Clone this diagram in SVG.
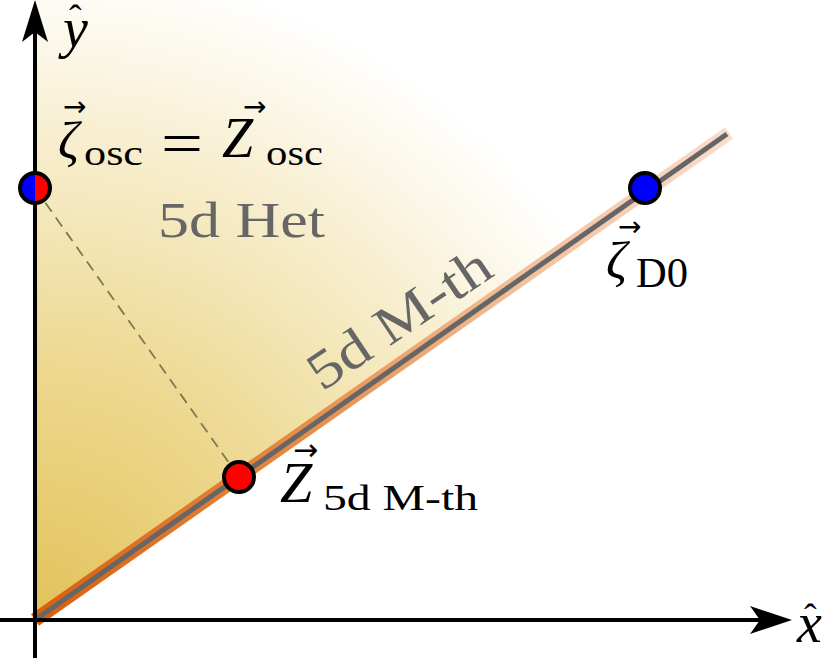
<svg xmlns="http://www.w3.org/2000/svg" width="830" height="658" viewBox="0 0 830 658">
<defs>
<radialGradient id="wedgeGrad" gradientUnits="userSpaceOnUse" cx="35" cy="620" r="660">
<stop offset="0" stop-color="#e2c25a"/>
<stop offset="0.35" stop-color="#ecd68a"/>
<stop offset="0.68" stop-color="#f6ebc6"/>
<stop offset="1" stop-color="#ffffff"/>
</radialGradient>
<linearGradient id="bandGrad" gradientUnits="userSpaceOnUse" x1="35" y1="620" x2="727" y2="133">
<stop offset="0" stop-color="#d95f0e"/>
<stop offset="0.35" stop-color="#e4873e"/>
<stop offset="0.7" stop-color="#f2c09c"/>
<stop offset="1" stop-color="#fadccb"/>
</linearGradient>
</defs>
<style>
.math{font-family:"Liberation Serif","Times New Roman",serif;font-style:italic;fill:#000}
.rm{font-family:"Liberation Serif","Times New Roman",serif;font-style:normal;fill:#000}
.grey{font-family:"Liberation Serif","Times New Roman",serif;fill:#666}
.vec{font-family:"DejaVu Sans","Liberation Serif",sans-serif;font-style:normal;fill:#000}
.pt{stroke:#000;stroke-width:4}
.axis{stroke:#000;stroke-width:4;fill:none}
</style>
<rect width="830" height="658" fill="#ffffff"/>
<g id="region-5d-het">
<polygon points="35,620 35,0 830,0 830,63.5" fill="url(#wedgeGrad)"/>
</g>
<g id="connectors">
<line x1="35" y1="620" x2="729" y2="133" stroke="url(#bandGrad)" stroke-width="14"/>
<line x1="35" y1="620" x2="727" y2="134" stroke="#666666" stroke-width="5"/>
<line x1="35" y1="188" x2="239" y2="477" stroke="#7f7952" stroke-width="1.8" stroke-dasharray="11,7"/>
<line x1="0" y1="620" x2="762" y2="620" class="axis"/>
<path d="M792,620 L750,606 L760,620 L750,634 Z" fill="#000"/>
<line x1="35" y1="658" x2="35" y2="30" class="axis"/>
<path d="M35,0 L22,42 L35,32 L48,42 Z" fill="#000"/>
</g>
<g id="axis-labels">
<text class="math" font-size="56"><tspan x="63" y="47">y</tspan><tspan class="rm" x="69" y="31" font-size="38">ˆ</tspan></text>
<text class="math" font-size="56"><tspan x="797" y="642">x</tspan><tspan class="rm" x="804" y="630" font-size="38">ˆ</tspan></text>
</g>
<g id="label-5d-het">
<text class="grey" x="158" y="237" font-size="50" textLength="167" lengthAdjust="spacingAndGlyphs">5d Het</text>
</g>
<g id="label-5d-mth">
<text class="grey" font-size="54" transform="translate(322,392) rotate(-34)" textLength="210" lengthAdjust="spacingAndGlyphs">5d M-th</text>
</g>
<g id="node-osc">
<path d="M35,173 A15,15 0 0 0 35,203 Z" fill="#0000ff"/>
<path d="M35,173 A15,15 0 0 1 35,203 Z" fill="#ff0000"/>
<circle cx="35" cy="188" r="15" fill="none" class="pt"/>
<text class="math" font-size="52"><tspan class="vec" x="63" y="116" font-size="28">→</tspan><tspan x="58" y="158">ζ</tspan></text>
<text class="rm" x="84" y="165" font-size="36" textLength="59" lengthAdjust="spacingAndGlyphs">osc</text>
<text class="rm" x="161" y="163" font-size="60" textLength="42" lengthAdjust="spacingAndGlyphs">=</text>
<text class="math" font-size="56"><tspan class="vec" x="243" y="116" font-size="28">→</tspan><tspan x="222" y="157">Z</tspan></text>
<text class="rm" x="266" y="165" font-size="36" textLength="57" lengthAdjust="spacingAndGlyphs">osc</text>
</g>
<g id="node-d0">
<circle cx="645" cy="188" r="15" fill="#0000ff" class="pt"/>
<text class="math" font-size="52"><tspan class="vec" x="618" y="236" font-size="28">→</tspan><tspan x="606" y="278">ζ</tspan></text>
<text class="rm" x="636" y="287" font-size="42" textLength="52" lengthAdjust="spacingAndGlyphs">D0</text>
</g>
<g id="node-5d-mth">
<circle cx="239" cy="477" r="15" fill="#ff0000" class="pt"/>
<text class="math" font-size="58"><tspan class="vec" x="293" y="460" font-size="30">→</tspan><tspan x="280" y="502">Z</tspan></text>
<text class="rm" x="323" y="510" font-size="35" textLength="155" lengthAdjust="spacingAndGlyphs">5d M-th</text>
</g>
</svg>
